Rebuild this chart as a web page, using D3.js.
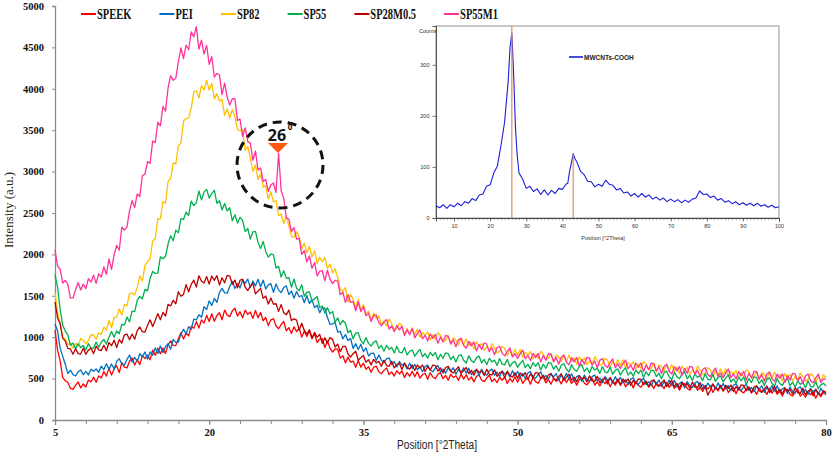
<!DOCTYPE html>
<html><head><meta charset="utf-8">
<script src="https://cdn.jsdelivr.net/npm/d3@7/dist/d3.min.js"></script>
<style>body{margin:0;background:#fff}svg{display:block}</style>
</head><body><svg id="c" width="835" height="455"></svg>
<script>
// ---------- DATA ----------
const positions = [
 5,5.25,5.5,5.75,6,6.25,6.5,6.75,7,7.25,7.5,7.75,8,8.25,8.5,8.75,9,9.25,9.5,9.75,
 10,10.25,10.5,10.75,11,11.25,11.5,11.75,12,12.25,12.5,12.75,13,13.25,13.5,13.75,14,14.25,14.5,14.75,
 15,15.25,15.5,15.75,16,16.25,16.5,16.75,17,17.25,17.5,17.75,18,18.25,18.5,18.75,19,19.25,19.5,19.75,
 20,20.25,20.5,20.75,21,21.25,21.5,21.75,22,22.25,22.5,22.75,23,23.25,23.5,23.75,24,24.25,24.5,24.75,
 25,25.25,25.5,25.75,26,26.25,26.5,26.75,27,27.25,27.5,27.75,28,28.25,28.5,28.75,29,29.25,29.5,29.75,
 30,30.25,30.5,30.75,31,31.25,31.5,31.75,32,32.25,32.5,32.75,33,33.25,33.5,33.75,34,34.25,34.5,34.75,
 35,35.25,35.5,35.75,36,36.25,36.5,36.75,37,37.25,37.5,37.75,38,38.25,38.5,38.75,39,39.25,39.5,39.75,
 40,40.25,40.5,40.75,41,41.25,41.5,41.75,42,42.25,42.5,42.75,43,43.25,43.5,43.75,44,44.25,44.5,44.75,
 45,45.25,45.5,45.75,46,46.25,46.5,46.75,47,47.25,47.5,47.75,48,48.25,48.5,48.75,49,49.25,49.5,49.75,
 50,50.25,50.5,50.75,51,51.25,51.5,51.75,52,52.25,52.5,52.75,53,53.25,53.5,53.75,54,54.25,54.5,54.75,
 55,55.25,55.5,55.75,56,56.25,56.5,56.75,57,57.25,57.5,57.75,58,58.25,58.5,58.75,59,59.25,59.5,59.75,
 60,60.25,60.5,60.75,61,61.25,61.5,61.75,62,62.25,62.5,62.75,63,63.25,63.5,63.75,64,64.25,64.5,64.75,
 65,65.25,65.5,65.75,66,66.25,66.5,66.75,67,67.25,67.5,67.75,68,68.25,68.5,68.75,69,69.25,69.5,69.75,
 70,70.25,70.5,70.75,71,71.25,71.5,71.75,72,72.25,72.5,72.75,73,73.25,73.5,73.75,74,74.25,74.5,74.75,
 75,75.25,75.5,75.75,76,76.25,76.5,76.75,77,77.25,77.5,77.75,78,78.25,78.5,78.75,79,79.25,79.5,79.75,
 80];

const seriesNames = ["SPEEK", "PEI", "SP82", "SP55", "SP28M0.5", "SP55M1"];

const speek = [
 1086,843,714,515,473,456,382,369,419,460,388,435,399,482,461,517,455,533,507,586,
 530,629,542,617,656,572,693,639,628,710,750,664,728,668,777,741,784,727,844,781,
 868,799,868,805,910,956,901,899,982,1055,978,1051,1016,1131,1108,1187,1110,1209,1170,1264,
 1190,1284,1192,1262,1296,1210,1328,1267,1248,1320,1350,1254,1308,1234,1327,1276,1304,1227,1324,1236,
 1298,1199,1238,1140,1210,1224,1136,1102,1152,1190,1078,1116,1046,1126,1068,1112,1000,1074,1010,1079,
 982,1045,936,976,983,875,954,868,821,858,855,747,777,690,759,699,712,636,720,638,
 686,613,644,577,638,649,582,559,599,630,548,581,531,595,556,593,513,573,529,589,
 522,584,505,549,565,491,570,519,499,552,572,499,538,481,552,514,535,479,554,494,
 546,481,521,460,527,543,483,463,507,541,463,498,451,517,480,519,441,502,460,522,
 457,521,443,488,505,433,513,463,444,499,520,448,488,433,505,468,490,436,512,453,
 506,442,481,421,487,504,443,424,467,502,423,459,411,478,440,480,401,463,420,483,
 417,480,401,445,461,388,467,416,396,450,470,397,436,380,451,413,434,379,454,394,
 446,381,420,359,425,441,380,360,403,437,358,393,345,411,373,412,333,394,351,413,
 347,410,331,375,391,318,397,346,326,380,400,327,366,310,381,343,364,309,384,324,
 376,311,350,289,355,371,310,290,333,367,288,323,275,341,303,342,263,324,281,343,
 300];

const pei = [
 1160,1076,868,768,674,560,602,550,532,582,605,546,587,544,613,588,616,575,651,609,
 679,614,677,615,708,740,678,666,731,785,701,756,710,800,764,821,735,822,782,870,
 802,895,816,886,923,855,974,938,941,1038,1095,1042,1127,1095,1219,1209,1272,1241,1370,1333,
 1438,1384,1468,1420,1540,1589,1536,1532,1612,1675,1588,1646,1596,1691,1648,1702,1600,1679,1620,1699,
 1610,1689,1582,1632,1646,1542,1643,1569,1538,1600,1620,1514,1558,1471,1552,1489,1504,1417,1504,1406,
 1454,1357,1387,1295,1358,1350,1238,1156,1161,1180,1061,1071,980,1033,959,984,865,922,852,915,
 827,871,774,804,807,720,786,723,693,738,750,670,704,641,707,662,678,616,686,622,
 671,606,644,583,648,664,603,582,625,658,579,614,565,631,592,631,552,612,569,630,
 564,626,547,590,607,533,612,560,540,593,614,540,579,522,593,554,575,519,595,534,
 586,522,561,501,567,584,523,504,547,582,503,539,491,558,520,560,481,543,500,563,
 497,559,480,523,539,465,543,491,471,524,544,470,509,452,523,484,504,448,523,462,
 514,449,488,427,493,509,449,429,472,506,427,462,414,480,442,482,403,464,421,483,
 417,479,400,443,460,386,465,413,393,446,467,393,432,375,446,407,428,373,448,387,
 439,375,414,354,420,437,376,357,400,435,356,392,344,411,373,413,334,396,353,416,
 350,412,334,377,393,320,399,347,328,381,401,328,367,310,382,343,364,309,384,323,
 340];

const sp82 = [
 1541,1297,1168,995,982,911,927,869,925,898,985,959,924,957,1031,1028,975,1054,1033,1121,
 1082,1203,1114,1238,1243,1339,1267,1396,1378,1530,1535,1511,1599,1741,1680,1867,1914,1944,2163,2190,
 2431,2430,2636,2620,2883,2917,3104,3094,3309,3347,3610,3638,3648,3764,3961,3975,3890,4037,3986,4102,
 3984,4066,3878,3941,3851,3873,3679,3757,3646,3750,3665,3507,3493,3507,3260,3304,3168,3003,3081,2905,
 2972,2810,2832,2670,2756,2634,2648,2468,2488,2374,2460,2346,2216,2208,2272,2215,2070,2134,2022,2099,
 1970,2043,1890,1965,1912,1963,1832,1883,1775,1825,1718,1577,1557,1600,1425,1515,1455,1355,1458,1327,
 1394,1285,1314,1210,1292,1223,1256,1151,1196,1133,1220,1162,1092,1103,1169,1135,1035,1103,1039,1113,
 1033,1099,998,1058,1024,1063,968,1028,972,1054,1020,947,963,1018,913,994,966,905,992,908,
 980,896,939,856,944,888,925,836,886,835,922,872,811,827,892,864,775,841,784,855,
 783,852,754,817,785,827,734,798,744,829,798,728,746,804,701,786,760,702,792,711,
 785,704,751,672,763,710,751,666,719,671,762,716,658,677,746,722,636,705,652,727,
 658,727,630,693,662,704,612,676,623,708,678,608,627,685,583,668,643,585,676,595,
 670,590,637,558,649,597,638,553,606,559,650,604,546,566,635,611,525,595,542,617,
 548,618,522,586,556,599,508,573,521,607,578,509,529,588,487,573,549,492,584,504,
 580,501,549,471,563,512,554,470,524,478,570,525,468,489,559,536,451,522,470,546,
 510];

const sp55 = [
 1755,1606,1336,1148,1073,1025,903,929,859,922,875,898,844,923,867,869,941,879,939,974,
 917,999,1070,998,1076,1041,1156,1148,1242,1185,1314,1310,1444,1493,1464,1578,1560,1710,1794,1771,
 1775,1970,1947,1977,2128,2225,2165,2293,2262,2433,2422,2510,2470,2643,2590,2622,2768,2660,2755,2785,
 2680,2735,2775,2617,2648,2537,2615,2525,2563,2405,2480,2377,2448,2410,2275,2313,2185,2273,2278,2145,
 2070,2156,2039,1966,2005,1995,1838,1856,1727,1804,1713,1718,1604,1703,1592,1560,1633,1494,1544,1547,
 1432,1467,1490,1358,1376,1291,1356,1283,1312,1180,1234,1150,1204,1168,1054,1083,980,1050,1054,961,
 920,995,925,892,940,955,865,900,830,902,855,875,810,890,820,810,875,785,830,845,
 770,816,853,764,801,747,818,775,816,728,794,745,812,803,730,771,702,774,790,722,
 688,775,717,694,750,772,689,731,668,745,702,723,660,742,674,666,733,644,691,708,
 635,683,721,633,671,619,692,649,692,605,673,625,693,686,614,656,589,662,680,612,
 580,668,611,588,646,669,587,629,567,645,603,625,563,646,579,571,639,552,600,617,
 545,593,631,543,581,529,602,559,602,515,583,535,603,596,524,566,499,572,590,522,
 490,578,521,499,557,580,498,541,479,557,515,538,476,559,492,485,553,466,514,532,
 460,508,546,459,497,445,518,476,519,432,500,453,521,514,442,485,418,491,509,442,
 410,498,440,418,475,498,415,458,395,473,430,453,390,473,405,398,465,378,425,443,
 410];

const sp28m05 = [
 1425,1233,1164,989,952,865,858,794,861,802,797,866,794,844,867,802,891,848,838,903,
 836,936,898,964,875,971,930,1029,1038,969,1038,975,1080,1124,1066,1062,1142,1210,1128,1201,
 1285,1211,1300,1256,1396,1378,1446,1403,1549,1494,1517,1634,1548,1638,1689,1605,1742,1675,1654,1733,
 1641,1739,1687,1744,1630,1718,1657,1747,1737,1639,1690,1597,1688,1701,1604,1563,1613,1650,1524,1557,
 1590,1469,1498,1401,1472,1399,1404,1312,1394,1296,1270,1329,1202,1222,1206,1085,1168,1082,1038,1090,
 990,1058,999,1034,925,992,932,995,974,882,917,825,888,890,798,761,801,830,721,753,
 780,698,729,666,732,690,708,649,721,658,649,709,629,670,685,610,688,635,614,666,
 599,665,626,665,585,646,602,664,656,591,629,568,633,649,587,567,609,643,563,598,
 635,561,600,542,613,574,595,538,613,552,545,606,527,570,586,511,590,538,518,570,
 504,570,532,571,493,554,511,573,566,501,540,480,546,562,501,481,524,558,479,515,
 553,479,518,461,532,494,515,459,534,473,466,528,449,492,508,435,514,462,442,495,
 429,495,457,496,417,479,436,498,491,426,465,404,470,486,425,406,449,483,404,439,
 477,403,442,385,456,418,439,383,458,397,390,452,373,416,300,359,438,386,366,419,
 354,420,383,422,343,404,362,424,417,352,392,331,397,413,353,333,376,410,332,367,
 405,332,371,315,386,348,369,314,389,329,322,385,306,350,366,293,372,321,301,355,
 330];

const sp55m1 = [
 2056,1858,1821,1655,1685,1638,1472,1474,1574,1660,1571,1642,1587,1707,1666,1749,1650,1768,1725,1848,
 1760,1945,1820,1995,2110,2050,2330,2295,2330,2525,2650,2565,2730,2700,2950,2970,3120,3100,3370,3350,
 3596,3553,3786,3730,4010,4158,4102,4129,4324,4495,4366,4527,4472,4687,4626,4750,4480,4588,4420,4523,
 4295,4389,4142,4187,4166,3930,4068,3897,3803,3880,3880,3619,3633,3426,3527,3364,3344,3137,3249,3021,
 3044,2882,2904,2760,2840,2862,2748,3220,2766,2680,2444,2428,2278,2323,2184,2196,2000,2047,1910,1982,
 1832,1903,1740,1795,1805,1680,1810,1702,1647,1688,1675,1515,1543,1422,1513,1422,1430,1320,1428,1310,
 1368,1259,1288,1190,1260,1269,1176,1137,1182,1215,1098,1136,1066,1146,1088,1132,1020,1094,1030,1104,
 992,1046,1088,980,1022,956,1040,986,1034,926,1004,944,1022,1010,920,968,884,968,986,902,
 866,950,895,943,834,912,851,929,916,826,873,789,872,890,805,775,828,870,761,803,
 742,799,843,738,782,719,805,754,804,699,779,722,802,793,705,756,674,761,781,700,
 666,754,703,755,650,732,675,757,748,662,713,633,720,742,661,635,692,738,633,679,
 622,679,724,619,664,601,688,637,688,583,664,607,688,679,592,643,562,649,670,589,
 556,644,593,645,540,622,565,647,638,552,603,523,610,632,551,525,582,628,523,569,
 512,570,616,512,558,496,584,534,586,482,564,508,590,582,496,548,468,556,578,498,
 466,555,505,558,454,537,481,564,556,471,523,444,532,555,475,450,508,555,451,498,
 490];

const seriesValues = [speek, pei, sp82, sp55, sp28m05, sp55m1];
const seriesColors = ["#ff0000", "#0070c0", "#ffc000", "#00b050", "#c00000", "#ff3399"];

const xTickLabels = [5, 20, 35, 50, 65, 80];
const yTickLabels = [0, 500, 1000, 1500, 2000, 2500, 3000, 3500, 4000, 4500, 5000];

// inset (MWCNTs-COOH)
const insetPos = [
 5,6,7,8,9,10,11,12,13,14,15,16,17,18,19,20,21,22,23,24,
 24.5,25,25.5,26,26.5,27,27.5,28,
 29,30,31,32,33,34,35,36,37,38,39,40,41,
 41.5,42,42.5,43,43.5,44,
 45,46,47,48,49,50,51,52,53,54,55,56,57,58,59,60,61,62,63,64,65,66,67,68,69,70,
 71,72,73,74,75,76,77,78,79,80,81,82,83,84,85,86,87,88,89,90,91,92,93,94,95,96,97,98,99,100];
const insetCounts = [
 24,20,26,19,26,22,29,24,32,29,38,34,45,47,62,65,88,102,142,188,
 228,268,334,362,282,178,122,88,
 76,58,62,52,57,46,55,45,54,48,58,56,66,
 68,92,108,126,116,110,
 92,85,72,71,61,66,62,74,66,64,55,58,49,51,43,48,41,48,41,45,37,41,35,39,32,37,
 32,36,30,35,31,37,39,53,46,47,40,43,35,38,31,34,28,32,26,30,25,29,24,29,23,26,21,25,20,22];
const insetXTicks = [10, 20, 30, 40, 50, 60, 70, 80, 90, 100];
const insetYTicks = [0, 100, 200, 300];
const refPeakPos = [26, 43];
const refPeakTop = [376, 125];

// ---------- DRAW ----------
const svg = d3.select("#c");
const x = d3.scaleLinear().domain([5, 80]).range([55, 826]);
const y = d3.scaleLinear().domain([0, 5000]).range([420, 6]);
const axisGray = "#8c8c8c";
const serif = "'Liberation Serif','Times New Roman',serif";

// length check (debug aid)
seriesValues.forEach((s, k) => {
  if (s.length !== positions.length)
    svg.append("text").attr("x", 100).attr("y", 60 + k * 12).attr("fill", "red").attr("font-size", 10)
      .text(seriesNames[k] + " len " + s.length + " vs " + positions.length);
});
if (insetPos.length !== insetCounts.length)
  svg.append("text").attr("x", 100).attr("y", 150).attr("fill", "red").attr("font-size", 10)
    .text("inset len " + insetCounts.length + " vs " + insetPos.length);

// x axis
const xAxis = svg.append("g").attr("transform", "translate(0,420)")
  .call(d3.axisBottom(x).tickValues(xTickLabels).tickSize(5).tickPadding(4).tickFormat(d3.format("d")));
svg.append("g").attr("transform", "translate(0,420)")
  .call(d3.axisBottom(x).tickValues(d3.range(5, 80.1, 3)).tickSize(4).tickFormat(""))
  .call(g => g.select(".domain").remove());
svg.selectAll(".tick line").attr("stroke", axisGray);
xAxis.select(".domain").attr("stroke", axisGray).attr("stroke-width", 1.3);
xAxis.selectAll("text").attr("font-family", serif).attr("font-weight", "bold")
  .attr("font-size", 10.5).attr("fill", "#111");

// y axis
const yAxis = svg.append("g").attr("transform", "translate(55,0)")
  .call(d3.axisLeft(y).tickValues(yTickLabels).tickSize(3).tickPadding(8).tickFormat(d3.format("d")));
yAxis.select(".domain").attr("stroke", axisGray).attr("stroke-width", 1.3);
yAxis.selectAll(".tick line").attr("stroke", axisGray);
yAxis.selectAll("text").attr("font-family", serif).attr("font-weight", "bold")
  .attr("font-size", 10.5).attr("fill", "#111");

// titles
svg.append("text").attr("x", 437).attr("y", 449).attr("text-anchor", "middle")
  .attr("font-family", "'Liberation Sans Narrow','Arial Narrow','Liberation Sans',sans-serif")
  .attr("font-size", 12.5).attr("fill", "#222")
  .attr("textLength", 80).attr("lengthAdjust", "spacingAndGlyphs")
  .text("Position [°2Theta]");
svg.append("text").attr("transform", "translate(13,210) rotate(-90)").attr("text-anchor", "middle")
  .attr("font-family", serif).attr("font-size", 13).attr("fill", "#222")
  .text("Intensity (a.u.)");

// series
const line = d3.line().x((d, i) => x(positions[i])).y(d => y(d));
seriesValues.forEach((vals, k) => {
  svg.append("path").datum(vals).attr("d", line)
    .attr("fill", "none").attr("stroke", seriesColors[k])
    .attr("stroke-width", 1.3).attr("stroke-linejoin", "round");
});

// legend
let lx = 81;
seriesNames.forEach((n, k) => {
  const g = svg.append("g");
  g.append("line").attr("x1", lx).attr("x2", lx + 15).attr("y1", 14).attr("y2", 14)
    .attr("stroke", seriesColors[k]).attr("stroke-width", 2);
  const t = g.append("text").attr("transform", `translate(${lx + 16},19) scale(0.75,1)`)
    .attr("font-family", serif).attr("font-weight", "bold").attr("font-size", 14)
    .attr("fill", "#111").text(n);
  const w = t.node().getComputedTextLength() * 0.75;
  lx += 16 + w + 28;
});

// annotation: dashed circle, 26° marker
svg.append("circle").attr("cx", 280).attr("cy", 165).attr("r", 43)
  .attr("fill", "none").attr("stroke", "#111").attr("stroke-width", 3)
  .attr("stroke-dasharray", "9,6");
svg.append("text").attr("x", 277).attr("y", 141).attr("text-anchor", "middle")
  .attr("font-family", "'Open Sans','Liberation Sans',sans-serif").attr("font-weight", "bold")
  .attr("font-size", 16).attr("fill", "#111").text("26");
svg.append("text").attr("x", 290).attr("y", 130).attr("text-anchor", "middle")
  .attr("font-family", "'Open Sans','Liberation Sans',sans-serif").attr("font-weight", "bold")
  .attr("font-size", 8).attr("fill", "#111").text("0");
svg.append("path").attr("d", "M268,143 L288,143 L278,153 Z").attr("fill", "#ff5a14");

// ---------- INSET ----------
const ix = d3.scaleLinear().domain([5, 100]).range([436, 779]);
const iy = d3.scaleLinear().domain([0, 376]).range([218, 26]);
const inset = svg.append("g");
inset.append("rect").attr("x", 436).attr("y", 26).attr("width", 343).attr("height", 192)
  .attr("fill", "#fff").attr("stroke", "#777").attr("stroke-width", 0.8);
inset.append("g").attr("transform", "translate(0,218)")
  .call(d3.axisBottom(ix).tickValues(d3.range(5, 100.1, 1)).tickSize(2).tickFormat(""))
  .call(g => g.select(".domain").remove())
  .selectAll("line").attr("stroke", "#555").attr("stroke-width", 0.6);
const ixa = inset.append("g").attr("transform", "translate(0,218)")
  .call(d3.axisBottom(ix).tickValues(insetXTicks).tickSize(3.5).tickPadding(3));
ixa.select(".domain").attr("stroke", "#444").attr("stroke-width", 0.9);
ixa.selectAll("line").attr("stroke", "#444").attr("stroke-width", 0.7);
ixa.selectAll("text").attr("font-family", "'Liberation Sans',Arial,sans-serif").attr("font-size", 5.5).attr("fill", "#333");
const iya = inset.append("g").attr("transform", "translate(436,0)")
  .call(d3.axisLeft(iy).tickValues(insetYTicks).tickSize(3.5).tickPadding(3));
iya.select(".domain").attr("stroke", "#444").attr("stroke-width", 0.9);
iya.selectAll("line").attr("stroke", "#444").attr("stroke-width", 0.7);
iya.selectAll("text").attr("font-family", "'Liberation Sans',Arial,sans-serif").attr("font-size", 5.5).attr("fill", "#333");
inset.append("text").attr("x", 419).attr("y", 33).attr("font-family", "'Liberation Sans',Arial,sans-serif")
  .attr("font-size", 5.5).attr("fill", "#333").text("Counts");
inset.append("text").attr("x", 603).attr("y", 240).attr("text-anchor", "middle")
  .attr("font-family", "'Liberation Sans',Arial,sans-serif").attr("font-size", 5.5).attr("fill", "#333")
  .text("Position [°2Theta]");
const iline = d3.line().x((d, i) => ix(insetPos[i])).y(d => iy(d));
inset.append("path").datum(insetCounts).attr("d", iline).attr("fill", "none")
  .attr("stroke", "#1d1dd8").attr("stroke-width", 1.1).attr("stroke-linejoin", "round");
refPeakPos.forEach((p, i) => {
  inset.append("line").attr("x1", ix(p)).attr("x2", ix(p)).attr("y1", iy(refPeakTop[i])).attr("y2", iy(0))
    .attr("stroke", "#e0905c").attr("stroke-width", 1.2);
});
inset.append("line").attr("x1", 569).attr("x2", 583).attr("y1", 57).attr("y2", 57)
  .attr("stroke", "#1d1dd8").attr("stroke-width", 1.6);
inset.append("text").attr("x", 584).attr("y", 59.5)
  .attr("font-family", "'Liberation Sans',Arial,sans-serif").attr("font-weight", "bold")
  .attr("font-size", 6.5).attr("fill", "#222").text("MWCNTs-COOH");
</script>
</body></html>
